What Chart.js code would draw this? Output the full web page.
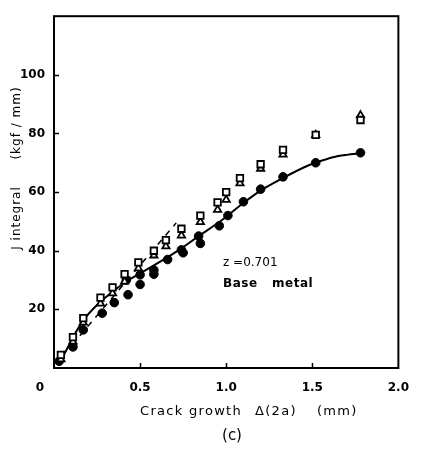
<!DOCTYPE html>
<html>
<head>
<meta charset="utf-8">
<script src="https://cdn.jsdelivr.net/npm/chart.js@4.4.1/dist/chart.umd.min.js"></script>
<style>
html, body { margin: 0; padding: 0; background: #fff; }
#wrap { position: relative; width: 422px; height: 449px; }
</style>
</head>
<body>
<div id="wrap"><canvas id="jChart" width="422" height="449"></canvas></div>
<script>
// ==========================================
// DATA
// ==========================================

// open markers: square and triangle share the same crack growth values
const growthOpen = [0.04, 0.11, 0.17, 0.27, 0.34, 0.41, 0.49, 0.58, 0.65, 0.74, 0.85, 0.95, 1.00, 1.08, 1.20, 1.33, 1.52, 1.78];
const squareJ    = [4.5, 10.5, 17, 24, 27.5, 32, 36, 40, 43.6, 47.5, 52, 56.5, 60, 64.8, 69.5, 74.4, 79.5, 84.6];
const triangleJ  = [3, 9, 15.5, 22, 25.5, 29.5, 34, 38.4, 41.5, 45.2, 49.8, 54, 57.4, 63, 68, 72.8, 79.5, 86.2];

// filled circles
const growthFilled = [0.03, 0.11, 0.17, 0.28, 0.35, 0.42, 0.43, 0.50, 0.50, 0.58, 0.58, 0.66, 0.74, 0.75, 0.84, 0.85, 0.96, 1.01, 1.10, 1.20, 1.33, 1.52, 1.78];
const filledJ      = [2.3, 7.2, 13, 18.7, 22.3, 30, 25, 31.8, 28.5, 33.4, 32, 37, 40.3, 39.3, 45, 42.5, 48.5, 52, 56.7, 61, 65.2, 70, 73.4];

// solid fitted curve
const fitGrowth = [0.03, 0.08, 0.13, 0.18, 0.25, 0.33, 0.42, 0.50, 0.58, 0.66, 0.74, 0.84, 0.96, 1.10, 1.20, 1.33, 1.45, 1.52, 1.62, 1.70, 1.78];
const fitJ      = [1.5, 7, 12.5, 17, 21.5, 25.5, 29.5, 32.3, 35, 37.8, 40.8, 45, 49.8, 56.3, 60.5, 64.8, 68.4, 70, 71.9, 72.7, 73.2];

// dashed line
const dashGrowth = [0.15, 0.71];
const dashJ      = [11, 49.5];

const xTicks = [0, 0.5, 1.0, 1.5, 2.0];
const yTicks = [20, 40, 60, 80, 100];

const FONT = "'DejaVu Sans', sans-serif";

function pairs(xs, ys){
    return xs.map((v, i) => ({ x: v, y: ys[i] }));
}

// ==========================================
// FRAME, INNER TICKS AND TEXT
// ==========================================

const framePlugin = {
    id: "frame",
    afterDraw(chart){
        const { ctx, chartArea: a, scales: { x, y } } = chart;
        ctx.save();

        ctx.strokeStyle = "#000";
        ctx.lineWidth = 2;
        ctx.strokeRect(a.left, a.top, a.right - a.left, a.bottom - a.top);

        ctx.lineWidth = 1.5;
        ctx.beginPath();
        yTicks.forEach(v => {
            const py = Math.round(y.getPixelForValue(v)) + 0.5;
            ctx.moveTo(a.left, py);
            ctx.lineTo(a.left + 5, py);
        });
        xTicks.slice(1, -1).forEach(v => {
            const px = Math.round(x.getPixelForValue(v)) + 0.5;
            ctx.moveTo(px, a.bottom);
            ctx.lineTo(px, a.bottom - 5);
        });
        ctx.stroke();

        ctx.fillStyle = "#000";
        ctx.textBaseline = "middle";

        // origin label
        ctx.font = "bold 12px " + FONT;
        ctx.textAlign = "center";
        ctx.fillText("0", 40, 388);

        // x axis title
        ctx.font = "13px " + FONT;
        ctx.letterSpacing = "1.3px";
        ctx.textAlign = "left";
        ctx.fillText("Crack growth", 140, 412);
        ctx.fillText("\u0394(2a)", 255, 412);
        ctx.fillText("(mm)", 317, 412);

        ctx.letterSpacing = "0px";
        ctx.font = "15px " + FONT;
        ctx.textAlign = "center";
        ctx.fillText("(c)", 232, 436);

        // annotation
        ctx.font = "12px " + FONT;
        ctx.textAlign = "left";
        ctx.fillText("z =0.701", 223, 263);
        ctx.font = "bold 12px " + FONT;
        ctx.letterSpacing = "0.5px";
        ctx.fillText("Base", 223, 284);
        ctx.fillText("metal", 272, 284);

        // y axis title
        ctx.letterSpacing = "1px";
        ctx.translate(17, 0);
        ctx.rotate(-Math.PI / 2);
        ctx.textAlign = "center";
        ctx.font = "12px " + FONT;
        ctx.fillText("J integral", -218, 0);
        ctx.fillText("(kgf / mm)", -123, 0);

        ctx.restore();
    }
};

// ==========================================
// J INTEGRAL CHART
// ==========================================

const jCanvas = document.getElementById("jChart");

new Chart(jCanvas, {

    type: "scatter",

    data: {

        datasets: [

            {
                label: "square",
                data: pairs(growthOpen, squareJ),
                pointStyle: "rect",
                pointRadius: 4.6,
                pointBackgroundColor: "#fff",
                pointBorderColor: "#000",
                pointBorderWidth: 1.8
            },

            {
                label: "triangle",
                data: pairs(growthOpen, triangleJ),
                pointStyle: "triangle",
                pointRadius: 4.2,
                pointBackgroundColor: "#fff",
                pointBorderColor: "#000",
                pointBorderWidth: 1.8
            },

            {
                label: "filled",
                data: pairs(growthFilled, filledJ),
                pointStyle: "circle",
                pointRadius: 4.3,
                pointBackgroundColor: "#000",
                pointBorderColor: "#000",
                pointBorderWidth: 1
            },

            {
                label: "fit",
                data: pairs(fitGrowth, fitJ),
                showLine: true,
                borderColor: "#000",
                borderWidth: 2,
                pointRadius: 0,
                tension: 0.4,
                cubicInterpolationMode: "monotone"
            },

            {
                label: "dashed",
                data: pairs(dashGrowth, dashJ),
                showLine: true,
                borderColor: "#000",
                borderWidth: 1.5,
                borderDash: [6, 6],
                pointRadius: 0
            }

        ]

    },

    options: {

        responsive: false,
        animation: false,
        devicePixelRatio: 1,

        layout: {
            padding: { left: 0, right: 7, top: 6, bottom: 0 }
        },

        plugins: {
            legend: { display: false },
            tooltip: { enabled: false }
        },

        scales: {

            x: {
                type: "linear",
                min: 0,
                max: 2.0,
                afterBuildTicks: s => { s.ticks = xTicks.map(v => ({ value: v })); },
                afterFit: s => { s.height = 81; },
                grid: { display: false, drawTicks: false },
                border: { display: false },
                ticks: {
                    padding: 13,
                    color: "#000",
                    font: { family: FONT, size: 12, weight: "bold" },
                    callback: v => (v === 0 ? "" : v.toFixed(1))
                }
            },

            y: {
                type: "linear",
                min: 0,
                max: 120,
                afterBuildTicks: s => { s.ticks = yTicks.map(v => ({ value: v })); },
                afterFit: s => { s.width = 54; },
                grid: { display: false, drawTicks: false },
                border: { display: false },
                ticks: {
                    padding: 9,
                    color: "#000",
                    font: { family: FONT, size: 12, weight: "bold" },
                    callback: v => String(v)
                }
            }

        }

    },

    plugins: [framePlugin]

});
</script>
</body>
</html>
